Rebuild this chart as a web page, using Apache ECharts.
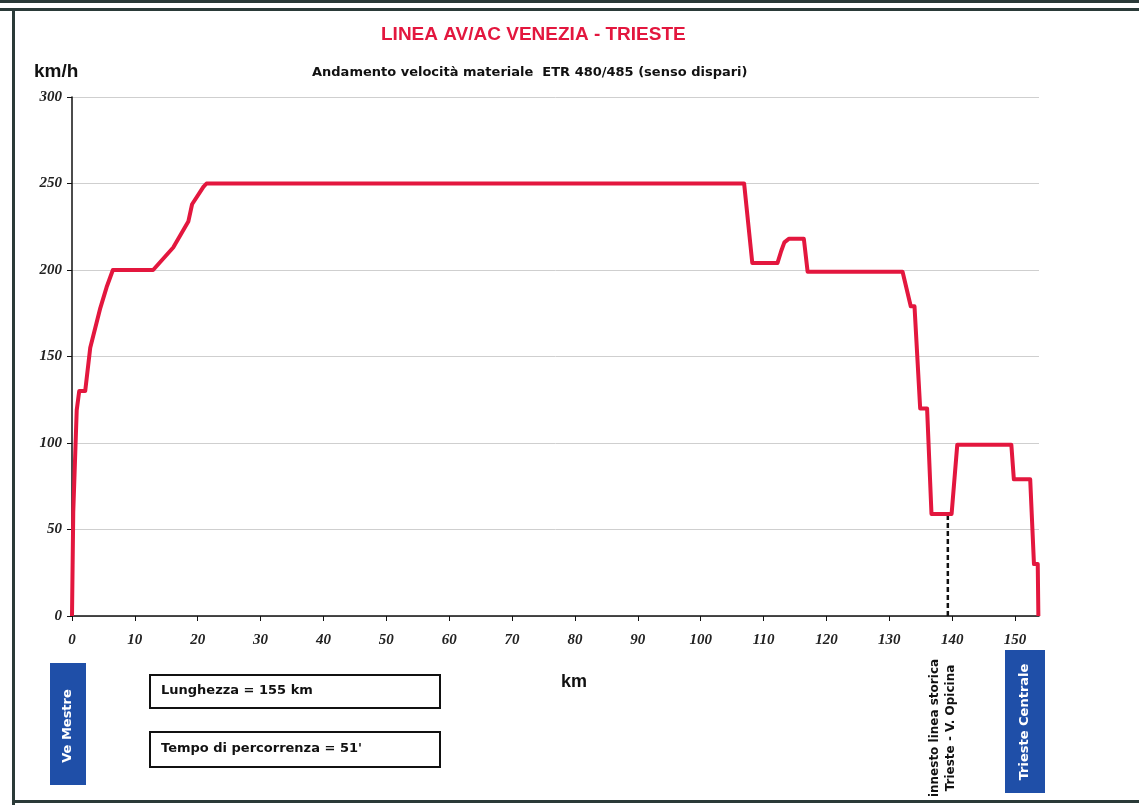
<!DOCTYPE html>
<html>
<head>
<meta charset="utf-8">
<script src="https://cdn.jsdelivr.net/npm/echarts@6/dist/echarts.min.js"></script>
<style>
html,body{margin:0;padding:0;background:#fff;}
#chart{width:1139px;height:805px;}
</style>
</head>
<body>
<div id="chart"></div>
<script>
// Speed profile along the line: distance (km) and speed (km/h)
const kmPoints = [0, 0.2, 0.75, 1.15, 2.1, 2.9, 4.5, 5.5, 6.5, 12.9, 16.1, 18.5, 19.1, 20.9, 21.4,
  106.9, 108.2, 112.2, 112.8, 113.3, 114.0, 116.4, 117.0, 132.1, 133.4, 134.0, 134.9, 136.0, 136.7,
  139.9, 140.8, 149.4, 149.8, 152.4, 153.0, 153.6, 153.7];
const speedPoints = [0, 60, 119, 130, 130, 155, 178, 190, 200, 200, 213, 228, 238, 248, 250,
  250, 204, 204, 211, 216, 218, 218, 199, 199, 179, 179, 120, 120, 59,
  59, 99, 99, 79, 79, 30, 30, 0];

// Junction with the historic line (Trieste - V. Opicina)
const junctionKm = 139.3;
const junctionSpeed = 59;

const yTicks = [0, 50, 100, 150, 200, 250, 300];
const xTicks = [0, 10, 20, 30, 40, 50, 60, 70, 80, 90, 100, 110, 120, 130, 140, 150];

const titleText = 'LINEA AV/AC VENEZIA - TRIESTE';
const subtitleText = 'Andamento velocità materiale  ETR 480/485 (senso dispari)';
const lengthText = 'Lunghezza = 155 km';
const timeText = "Tempo di percorrenza = 51'";
const startStation = 'Ve Mestre';
const endStation = 'Trieste Centrale';
const junctionLabel = ['innesto linea storica', 'Trieste - V. Opicina'];

const profile = kmPoints.map((k, i) => [k, speedPoints[i]]);
const junction = [[junctionKm, 0], [junctionKm, junctionSpeed]];

const red = '#e3173e';
const blue = '#1f4fa8';
const tickFont = {fontFamily: 'Liberation Serif', fontStyle: 'italic', fontWeight: 'bold', fontSize: 15, color: '#222'};

const chart = echarts.init(document.getElementById('chart'));
chart.setOption({
  backgroundColor: '#fff',
  animation: false,
  grid: {left: 72, right: 100, top: 97, bottom: 189, containLabel: false},
  xAxis: {
    type: 'value', min: 0, max: 153.8, interval: 10,
    axisLine: {lineStyle: {color: '#111', width: 1.5}},
    axisTick: {show: true, length: 5, lineStyle: {color: '#111'}},
    splitLine: {show: false},
    axisLabel: Object.assign({margin: 17, showMaxLabel: false,
      formatter: v => xTicks.includes(v) ? String(v) : ''}, tickFont)
  },
  yAxis: {
    type: 'value', min: 0, max: 300, interval: 50,
    axisLine: {show: true, lineStyle: {color: '#111', width: 1.5}},
    axisTick: {show: true, length: 5, lineStyle: {color: '#111'}},
    splitLine: {lineStyle: {color: '#cfcfcf', width: 1}},
    axisLabel: Object.assign({margin: 10, formatter: v => yTicks.includes(v) ? String(v) : ''}, tickFont)
  },
  series: [
    {
      type: 'line', data: junction, symbol: 'none', z: 2,
      lineStyle: {color: '#111', width: 2.5, type: [5, 3]}
    },
    {
      type: 'line', data: profile, symbol: 'none', z: 3,
      lineStyle: {color: red, width: 4, join: 'round'}
    }
  ],
  graphic: [
    // page frame
    {type: 'rect', shape: {x: 0, y: 0, width: 1139, height: 3}, style: {fill: '#2a3a38'}},
    {type: 'rect', shape: {x: 0, y: 8, width: 1139, height: 3}, style: {fill: '#2a3a38'}},
    {type: 'rect', shape: {x: 12, y: 8, width: 3, height: 797}, style: {fill: '#2a3a38'}},
    {type: 'rect', shape: {x: 12, y: 800, width: 1127, height: 3}, style: {fill: '#2a3a38'}},
    // titles
    {type: 'text', left: 381, top: 25,
      style: {text: titleText, font: 'bold 19px "Liberation Sans"', fill: red}},
    {type: 'text', top: 66, left: 312,
      style: {text: subtitleText, font: 'bold 13px "DejaVu Sans"', fill: '#111'}},
    {type: 'text', top: 62, left: 34,
      style: {text: 'km/h', font: 'bold 19px "Liberation Sans"', fill: '#111'}},
    {type: 'text', top: 673, left: 561,
      style: {text: 'km', font: 'bold 18px "Liberation Sans"', fill: '#111'}},
    // info boxes
    {type: 'rect', shape: {x: 150, y: 675, width: 290, height: 33},
      style: {fill: '#fff', stroke: '#111', lineWidth: 2}},
    {type: 'text', left: 161, top: 684,
      style: {text: lengthText, font: 'bold 13px "DejaVu Sans"', fill: '#111'}},
    {type: 'rect', shape: {x: 150, y: 732, width: 290, height: 35},
      style: {fill: '#fff', stroke: '#111', lineWidth: 2}},
    {type: 'text', left: 161, top: 742,
      style: {text: timeText, font: 'bold 13px "DejaVu Sans"', fill: '#111'}},
    // station markers
    {type: 'rect', shape: {x: 50, y: 663, width: 36, height: 122}, style: {fill: blue}},
    {type: 'text', x: 68, y: 726, rotation: Math.PI / 2,
      style: {text: startStation, font: 'bold 13px "DejaVu Sans"', fill: '#fff', align: 'center', verticalAlign: 'middle'}},
    {type: 'rect', shape: {x: 1005, y: 650, width: 40, height: 143}, style: {fill: blue}},
    {type: 'text', x: 1025, y: 722, rotation: Math.PI / 2,
      style: {text: endStation, font: 'bold 13px "DejaVu Sans"', fill: '#fff', align: 'center', verticalAlign: 'middle'}},
    {type: 'text', x: 935, y: 728, rotation: Math.PI / 2,
      style: {text: junctionLabel[0], font: 'bold 12px "DejaVu Sans"', fill: '#111', align: 'center', verticalAlign: 'middle'}},
    {type: 'text', x: 951, y: 728, rotation: Math.PI / 2,
      style: {text: junctionLabel[1], font: 'bold 12px "DejaVu Sans"', fill: '#111', align: 'center', verticalAlign: 'middle'}}
  ]
});
</script>
</body>
</html>
